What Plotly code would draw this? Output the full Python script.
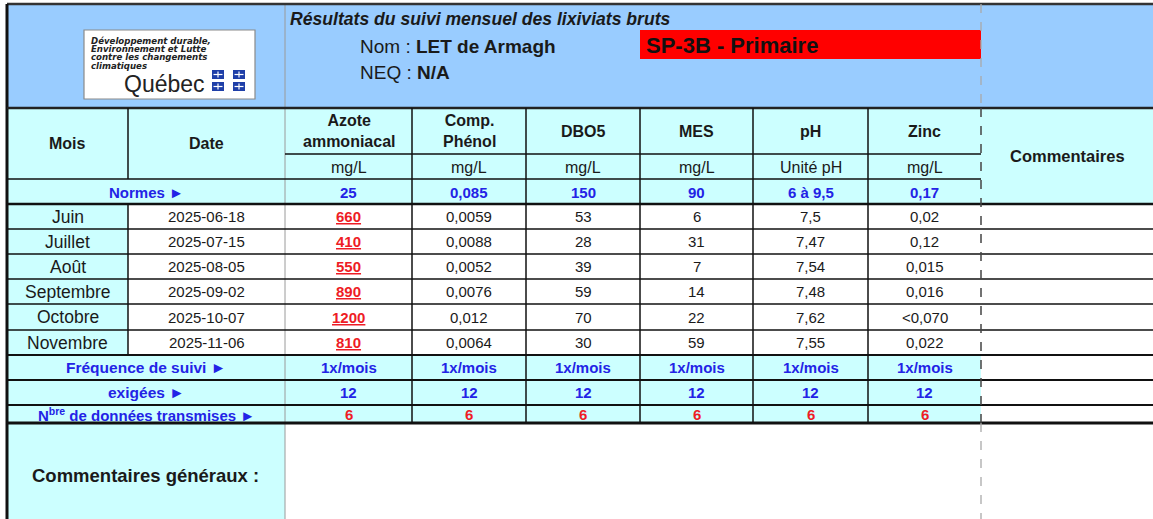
import plotly.graph_objects as go

# ---------------- data ----------------
mois = ["Juin", "Juillet", "Août", "Septembre", "Octobre", "Novembre"]
dates = ["2025-06-18", "2025-07-15", "2025-08-05", "2025-09-02", "2025-10-07", "2025-11-06"]
parametres = ["Azote<br>ammoniacal", "Comp.<br>Phénol", "DBO5", "MES", "pH", "Zinc"]
unites = ["mg/L", "mg/L", "mg/L", "mg/L", "Unité pH", "mg/L"]
normes = ["25", "0,085", "150", "90", "6 à 9,5", "0,17"]
azote = ["660", "410", "550", "890", "1200", "810"]
phenol = ["0,0059", "0,0088", "0,0052", "0,0076", "0,012", "0,0064"]
dbo5 = ["53", "28", "39", "59", "70", "30"]
mes = ["6", "31", "7", "14", "22", "59"]
ph = ["7,5", "7,47", "7,54", "7,48", "7,62", "7,55"]
zinc = ["0,02", "0,12", "0,015", "0,016", "<0,070", "0,022"]
frequence = ["1x/mois"] * 6
exigees = ["12"] * 6
transmises = ["6"] * 6
depasse_azote = [True] * 6

# ---------------- layout geometry ----------------
W, H = 1153, 519
FONT = "Liberation Sans, Arial, sans-serif"
BLUE_BG = "#99CCFF"
CYAN = "#CCFFFF"
TXT = "#1a1a1a"
BLUE_TXT = "#2323E6"
RED_TXT = "#EE1C25"

col_x = [7, 128, 285, 412, 526, 640, 753, 868, 981, 1153]
Y_TOP, Y_HEAD, Y_H1, Y_UNIT, Y_NORM = 4, 108, 154, 179, 204
row_y = [204, 229, 254, 279, 304, 330, 355]
Y_FREQ, Y_EXIG, Y_TRANS = 380, 405, 423

shapes = []
ann = []


def rect(x0, y0, x1, y1, fill, line=None, lw=0):
    shapes.append(dict(type="rect", xref="x", yref="y", x0=x0, y0=y0, x1=x1, y1=y1,
                       fillcolor=fill, line=dict(color=line or fill, width=lw), layer="below"))


def hline(y, x0, x1, w=1.5, c="#111", dash="solid"):
    shapes.append(dict(type="line", xref="x", yref="y", x0=x0, x1=x1, y0=y, y1=y,
                       line=dict(color=c, width=w, dash=dash), layer="above"))


def vline(x, y0, y1, w=1.5, c="#111", dash="solid"):
    shapes.append(dict(type="line", xref="x", yref="y", x0=x, x1=x, y0=y0, y1=y1,
                       line=dict(color=c, width=w, dash=dash), layer="above"))


def text(x, y, s, size=15, color=TXT, bold=False, italic=False, xanchor="center", family=FONT):
    if bold:
        s = "<b>" + s + "</b>"
    if italic:
        s = "<i>" + s + "</i>"
    ann.append(dict(x=x, y=y, xref="x", yref="y", text=s, showarrow=False,
                    xanchor=xanchor, yanchor="middle",
                    font=dict(family=family, size=size, color=color)))


# backgrounds
rect(col_x[0], Y_TOP, W, Y_HEAD, BLUE_BG)
rect(col_x[0], Y_HEAD, W, Y_NORM, CYAN)
rect(col_x[0], row_y[0], col_x[1], row_y[-1], CYAN)
rect(col_x[0], row_y[-1], col_x[-2], Y_TRANS, CYAN)
rect(col_x[0], Y_TRANS, col_x[2], H, CYAN)
# red station box
rect(640, 30, 981, 59, "#FF0000")
# logo
rect(84, 30, 255, 99, "white", "#8a8a8a", 1.2)
for fx in (212, 233):
    for fy in (70, 82):
        rect(fx, fy, fx + 12, fy + 9, "#1F3FA8")
        shapes.append(dict(type="line", xref="x", yref="y", x0=fx + 6, x1=fx + 6, y0=fy + 1.5, y1=fy + 7.5,
                           line=dict(color="white", width=1.2), layer="above"))
        shapes.append(dict(type="line", xref="x", yref="y", x0=fx + 1.5, x1=fx + 10.5, y0=fy + 4.5, y1=fy + 4.5,
                           line=dict(color="white", width=1.2), layer="above"))

# grid lines
vline(285, Y_TOP, H, 1, "#9a9a9a")
hline(Y_TOP, col_x[0], W, 2.5, "#333")
vline(col_x[0], Y_TOP, H, 3, "#111")
hline(Y_HEAD, col_x[0], W, 2.5, "#222")
hline(Y_H1, col_x[2], col_x[-2], 1.5)
hline(Y_UNIT, col_x[0], col_x[-2], 1.5)
hline(Y_NORM, col_x[0], W, 2.5)
for y in row_y[1:-1]:
    hline(y, col_x[0], W, 1.5)
hline(row_y[-1], col_x[0], W, 2)
hline(Y_FREQ, col_x[0], W, 2)
hline(Y_EXIG, col_x[0], W, 2)
hline(Y_TRANS, col_x[0], W, 3)
vline(col_x[1], Y_HEAD, Y_UNIT, 1.5)
vline(col_x[1], Y_NORM, row_y[-1], 1.5)
for x in col_x[3:-2]:
    vline(x, Y_HEAD, Y_TRANS, 1.5)
vline(col_x[-2], Y_TOP, Y_HEAD, 1.3, "#aaaaaa", "dash")
vline(col_x[-2], Y_HEAD, Y_TRANS, 1.5, "#444", "dash")
vline(col_x[-2], Y_TRANS, H, 1.3, "#aaaaaa", "dash")

# header texts
text(288, 19, "Résultats du suivi mensuel des lixiviats bruts", 17.6, TXT, True, True, "left")
text(358, 46, "Nom : <b>LET de Armagh</b>", 19, TXT, xanchor="left")
text(358, 72, "NEQ : <b>N/A</b>", 19, TXT, xanchor="left")
text(644, 45, "SP-3B - Primaire", 22, "#111", True, xanchor="left")

logo_lines = ["Développement durable,", "Environnement et Lutte", "contre les changements", "climatiques"]
for i, s in enumerate(logo_lines):
    text(89, 40.5 + i * 8.4, s, 8.6, "#222", True, True, "left", "DejaVu Sans, sans-serif")
text(164, 84, "Québec", 23, "#222")

# table header
mid = lambda a, b: (a + b) / 2
text(mid(col_x[0], col_x[1]), 143, "Mois", 16, TXT, True)
text(mid(col_x[1], col_x[2]), 143, "Date", 16, TXT, True)
for i, p in enumerate(parametres):
    cx = mid(col_x[2 + i], col_x[3 + i])
    text(cx, 131, p, 16, TXT, True)
    text(cx, 167, unites[i], 16, TXT)
    text(cx, 192, normes[i], 15, BLUE_TXT, True)
text(mid(col_x[-2], col_x[-1]), 156, "Commentaires", 16.5, TXT, True)
text(mid(col_x[0], col_x[2]), 192, "Normes ►", 15, BLUE_TXT, True)

# data rows
series = [azote, phenol, dbo5, mes, ph, zinc]
for r in range(6):
    cy = mid(row_y[r], row_y[r + 1])
    text(mid(col_x[0], col_x[1]), cy, mois[r], 17.5)
    text(mid(col_x[1], col_x[2]), cy, dates[r], 15)
    for c, ser in enumerate(series):
        cx = mid(col_x[2 + c], col_x[3 + c])
        if c == 0 and depasse_azote[r]:
            text(cx, cy, "<u>" + ser[r] + "</u>", 15, RED_TXT, True)
        else:
            text(cx, cy, ser[r], 15)

# footer rows
fy = [mid(row_y[-1], Y_FREQ), mid(Y_FREQ, Y_EXIG), mid(Y_EXIG, Y_TRANS)]
text(mid(col_x[0], col_x[2]), fy[0], "Fréquence de suivi ►", 15.5, BLUE_TXT, True)
text(mid(col_x[0], col_x[2]), fy[1], "exigées ►", 15.5, BLUE_TXT, True)
text(mid(col_x[0], col_x[2]), fy[2], "N<sup>bre</sup> de données transmises ►", 15, BLUE_TXT, True)
for c in range(6):
    cx = mid(col_x[2 + c], col_x[3 + c])
    text(cx, fy[0], frequence[c], 15, BLUE_TXT, True)
    text(cx, fy[1], exigees[c], 15, BLUE_TXT, True)
    text(cx, fy[2], transmises[c], 15, RED_TXT, True)

text(145, 475, "Commentaires généraux :", 18.5, TXT, True)

fig = go.Figure()
fig.update_layout(
    width=W, height=H,
    margin=dict(l=0, r=0, t=0, b=0),
    paper_bgcolor="white", plot_bgcolor="white",
    xaxis=dict(range=[0, W], visible=False, fixedrange=True),
    yaxis=dict(range=[H, 0], visible=False, fixedrange=True),
    shapes=shapes, annotations=ann, showlegend=False,
)
fig.write_html(
    "out.html",
    config={"displayModeBar": False},
    post_script="document.body.style.margin='0';document.body.style.overflow='hidden';",
)
